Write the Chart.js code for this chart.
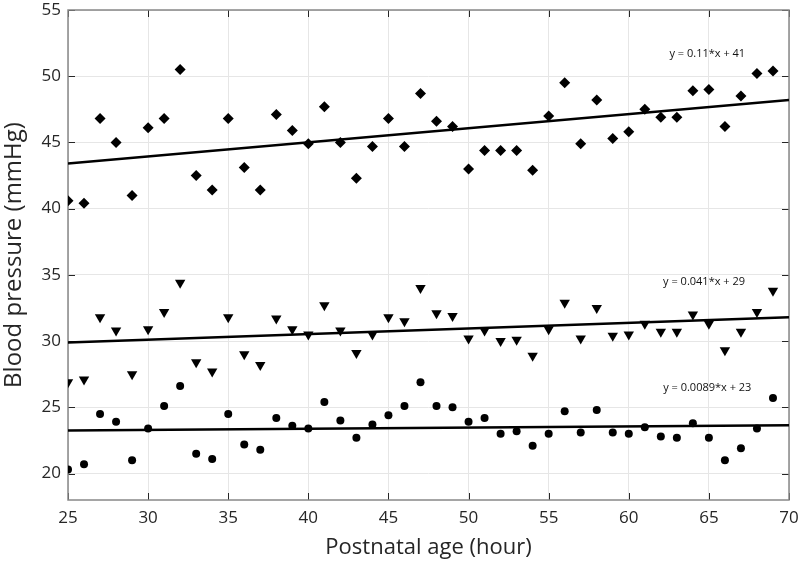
<!DOCTYPE html>
<html>
<head>
<meta charset="utf-8">
<script src="https://cdn.jsdelivr.net/npm/chart.js@4.4.1/dist/chart.umd.min.js"></script>
<style>
  html, body { margin: 0; padding: 0; background: #fff; }
  #wrap { width: 800px; height: 562px; }
</style>
</head>
<body>
<div id="wrap"><canvas id="grafica" width="800" height="562"></canvas></div>
<script>
const ages = [25, 26, 27, 28, 29, 30, 31, 32, 33, 34, 35, 36, 37, 38, 39, 40, 41, 42, 43, 44, 45, 46, 47,
  48, 49, 50, 51, 52, 53, 54, 55, 56, 57, 58, 59, 60, 61, 62, 63, 64, 65, 66, 67, 68, 69];
const systolic = [40.6, 40.4, 46.8, 45.0, 41.0, 46.1, 46.8, 50.5, 42.5, 41.4, 46.8, 43.1, 41.4, 47.1, 45.9, 44.9, 47.7, 45.0, 42.3, 44.7, 46.8, 44.7, 48.7,
  46.6, 46.2, 43.0, 44.4, 44.4, 44.4, 42.9, 47.0, 49.5, 44.9, 48.2, 45.3, 45.8, 47.5, 46.9, 46.9, 48.9, 49.0, 46.2, 48.5, 50.2, 50.4];
const meanBP = [26.9, 27.1, 31.8, 30.8, 27.5, 30.9, 32.2, 34.4, 28.4, 27.7, 31.8, 29.0, 28.2, 31.7, 30.9, 30.5, 32.7, 30.8, 29.1, 30.5, 31.8, 31.5, 34.0,
  32.1, 31.9, 30.2, 30.8, 30.0, 30.1, 28.9, 30.9, 32.9, 30.2, 32.5, 30.4, 30.5, 31.3, 30.7, 30.7, 32.0, 31.3, 29.3, 30.7, 32.2, 33.8];
const diastolic = [20.3, 20.7, 24.5, 23.9, 21.0, 23.4, 25.1, 26.6, 21.5, 21.1, 24.5, 22.2, 21.8, 24.2, 23.6, 23.4, 25.4, 24.0, 22.7, 23.7, 24.4, 25.1, 26.9,
  25.1, 25.0, 23.9, 24.2, 23.0, 23.2, 22.1, 23.0, 24.7, 23.1, 24.8, 23.1, 23.0, 23.5, 22.8, 22.7, 23.8, 22.7, 21.0, 21.9, 23.4, 25.7];

// fitted lines read at x = 25 and x = 70
const fitX = [25, 70];
const fitSystolic = [43.4, 48.2];
const fitMean = [29.9, 31.8];
const fitDiastolic = [23.25, 23.65];
const fitLabels = ["y = 0.11*x + 41", "y = 0.041*x + 29", "y = 0.0089*x + 23"];
const labelX = [64.9, 64.7, 64.9];
const labelY = [51.7, 34.5, 26.45];

const xTicks = [25, 30, 35, 40, 45, 50, 55, 60, 65, 70];
const yTicks = [20, 25, 30, 35, 40, 45, 50, 55];

Chart.defaults.font.family = "'Open Sans', 'Noto Sans', sans-serif";
Chart.defaults.color = "#262626";

function pts(xs, ys) {
  return xs.map((v, i) => ({ x: v, y: ys[i] }));
}

const framePlugin = {
  id: "frame",
  beforeDatasetsDraw(chart) {
    const { ctx, chartArea: a, scales } = chart;
    ctx.save();
    ctx.strokeStyle = "#262626";
    ctx.lineWidth = 1;
    ctx.beginPath();
    xTicks.forEach(v => {
      const px = Math.round(scales.x.getPixelForValue(v)) + 0.5;
      ctx.moveTo(px, a.bottom); ctx.lineTo(px, a.bottom - 7);
      ctx.moveTo(px, a.top); ctx.lineTo(px, a.top + 7);
    });
    yTicks.forEach(v => {
      const py = Math.round(scales.y.getPixelForValue(v)) + 0.5;
      ctx.moveTo(a.left, py); ctx.lineTo(a.left + 7, py);
      ctx.moveTo(a.right, py); ctx.lineTo(a.right - 7, py);
    });
    ctx.stroke();
    ctx.strokeStyle = "#888";
    ctx.lineWidth = 1.5;
    ctx.strokeRect(a.left, a.top, a.right - a.left, a.bottom - a.top);
    ctx.restore();
  },
  afterDatasetsDraw(chart) {
    const { ctx, scales } = chart;
    ctx.save();
    ctx.fillStyle = "#111";
    ctx.font = "11px 'Open Sans', sans-serif";
    ctx.textAlign = "center";
    ctx.textBaseline = "middle";
    fitLabels.forEach((t, i) => {
      ctx.fillText(t, scales.x.getPixelForValue(labelX[i]), scales.y.getPixelForValue(labelY[i]));
    });
    ctx.restore();
  }
};

const ctx = document.getElementById("grafica").getContext("2d");
new Chart(ctx, {
  type: "scatter",
  data: {
    datasets: [
      { data: pts(ages, systolic), pointStyle: "rectRot", pointRadius: 5.5, backgroundColor: "#000", borderColor: "#000", borderWidth: 0 },
      { data: pts(ages, meanBP), pointStyle: "triangle", rotation: 180, pointRadius: 6, backgroundColor: "#000", borderColor: "#000", borderWidth: 0 },
      { data: pts(ages, diastolic), pointStyle: "circle", pointRadius: 4, backgroundColor: "#000", borderColor: "#000", borderWidth: 0 },
      { type: "line", data: pts(fitX, fitSystolic), borderColor: "#000", borderWidth: 2.5, pointRadius: 0, fill: false },
      { type: "line", data: pts(fitX, fitMean), borderColor: "#000", borderWidth: 2.5, pointRadius: 0, fill: false },
      { type: "line", data: pts(fitX, fitDiastolic), borderColor: "#000", borderWidth: 2.5, pointRadius: 0, fill: false }
    ]
  },
  options: {
    responsive: false,
    animation: false,
    layout: { padding: { left: 0, right: 11, top: 10, bottom: 0 } },
    plugins: { legend: { display: false }, tooltip: { enabled: false } },
    scales: {
      x: {
        type: "linear",
        min: 25, max: 70,
        afterBuildTicks: s => { s.ticks = xTicks.map(v => ({ value: v })); },
        afterFit: s => { s.height = 62; s.paddingLeft = 0; s.paddingRight = 0; },
        grid: { color: "#e6e6e6", drawTicks: false },
        border: { display: false },
        ticks: { padding: 8, font: { size: 17 }, color: "#262626" },
        title: { display: true, text: "Postnatal age (hour)", font: { size: 22 }, color: "#262626", padding: { top: 0, bottom: 1 } }
      },
      y: {
        type: "linear",
        min: 18, max: 55,
        afterBuildTicks: s => { s.ticks = yTicks.map(v => ({ value: v })); },
        afterFit: s => { s.width = 68; s.paddingTop = 0; s.paddingBottom = 0; },
        grid: { color: "#e6e6e6", drawTicks: false },
        border: { display: false },
        ticks: { padding: 7, font: { size: 17 }, color: "#262626" },
        title: { display: true, text: "Blood pressure (mmHg)", font: { size: 24 }, color: "#262626", padding: { top: 0, bottom: 0 } }
      }
    }
  },
  plugins: [framePlugin]
});
</script>
</body>
</html>
